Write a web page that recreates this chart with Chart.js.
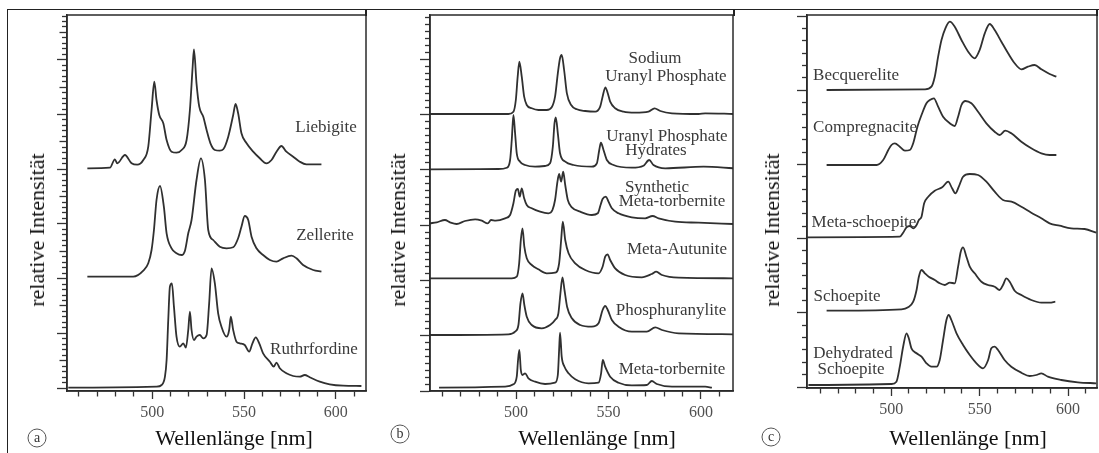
<!DOCTYPE html>
<html><head><meta charset="utf-8">
<script src="https://cdn.jsdelivr.net/npm/chart.js@4.4.0/dist/chart.umd.min.js"></script>
<style>
html,body{margin:0;padding:0;background:#fff;}
body{width:1099px;height:453px;position:relative;overflow:hidden;font-family:"Liberation Serif","Times New Roman",serif;}
canvas{position:absolute;top:0;}
.lbl{position:absolute;transform:translate(-50%,-50%);white-space:nowrap;font-size:17px;color:#3a3a3a;line-height:1;}
.ytitle{position:absolute;transform:translate(-50%,-50%) rotate(-90deg);white-space:nowrap;font-size:22px;color:#111;line-height:1;}
.xtitle{position:absolute;transform:translate(-50%,-50%);white-space:nowrap;font-size:22px;color:#111;line-height:1;}
.circ{position:absolute;transform:translate(-50%,-50%);width:17px;height:17px;border:1.3px solid #555;border-radius:50%;font-size:14px;line-height:16px;text-align:center;color:#333;}
.ln{position:absolute;background:#222;}
</style></head>
<body>
<canvas id="ca" width="370" height="453" style="left:0px"></canvas>
<canvas id="cb" width="365" height="453" style="left:370px"></canvas>
<canvas id="cc" width="364" height="453" style="left:735px"></canvas>
<div class="ln" style="left:7px;top:9px;width:1px;height:444px"></div>
<div class="ln" style="left:7px;top:9px;width:1092px;height:1px"></div>
<div class="ln" style="left:365px;top:9px;width:1.5px;height:7px"></div>
<div class="ln" style="left:733px;top:9px;width:1.5px;height:7px"></div>
<div class="ln" style="left:1096px;top:9px;width:1.5px;height:7px"></div>
<div id="overlay"></div>
<script>
// ---------------- DATA ----------------
const yAxisTitle = 'relative Intensität';
const xAxisTitle = 'Wellenlänge [nm]';
const panelLetters = ['a', 'b', 'c'];
const xTickValues = [460, 470, 480, 490, 500, 510, 520, 530, 540, 550, 560, 570, 580, 590, 600, 610];
const xTickLabels = ['500', '550', '600'];

// panel (a)  [wavelength nm, relative intensity]
const liebigite = [[464.6,222.7],[476.9,223.3],[479.6,231.7],[480.9,227.7],[485.1,236],[488.7,227.7],[491.8,226.3],[495.1,231],[497.8,244.3],[499.6,281],[501.1,309.3],[502.3,291],[503.8,276],[506.0,267.7],[507.8,251],[510.5,239.3],[513.2,238.3],[516.0,241],[518.7,251],[520.5,281],[522.0,324.3],[522.7,341.7],[524.1,307.7],[525.6,284.3],[527.8,274.3],[529.6,261],[531.7,247.7],[534.1,241],[536.8,240.3],[538.7,241.7],[541.4,254.3],[544.1,276],[545.4,287],[546.8,277.7],[548.6,257.7],[551.4,247.7],[555.0,239.3],[558.6,232.7],[562.2,227.7],[565.0,231],[567.7,239.3],[570.4,245],[573.1,239.3],[576.8,234.3],[580.4,229.3],[584.0,226.7],[592.2,226.7]];
const zellerite = [[464.6,114.3],[489.6,114.3],[495.1,120.3],[497.8,127.7],[499.6,141],[500.9,161],[502.3,191],[504.2,205],[506.3,184.3],[507.8,157.7],[510.5,142.7],[513.2,137.7],[516.0,136],[517.8,140.3],[519.6,157.7],[521.4,171],[524.1,211],[526.5,232.7],[528.7,211],[530.5,161],[533.2,151],[536.8,144.3],[540.5,142.7],[544.1,143.7],[546.8,152.7],[548.6,164.3],[550.4,175],[552.3,171],[554.1,154.3],[556.8,142.7],[560.4,136],[564.1,131],[567.7,129.3],[571.3,132.7],[575.9,135.3],[578.6,132.7],[582.2,126],[587.7,121],[592.2,119.3]];
const ruthrfordine = [[454.2,3.3],[502.3,4.3],[505.1,6],[506.9,14.3],[507.8,31],[508.7,71],[509.6,104.3],[510.7,107.7],[511.8,84.3],[513.2,54.3],[515.0,44.3],[516.9,47.7],[518.3,43.3],[519.6,61],[520.5,79.3],[521.4,61],[522.7,51],[524.1,54.3],[525.9,56],[527.8,52.7],[529.6,56],[531.0,87.7],[532.3,122.7],[534.1,107.7],[535.9,77.7],[537.7,64.3],[540.5,54.3],[541.9,61],[542.8,74.3],[544.1,61],[545.9,49.3],[547.7,47.7],[550.4,46],[552.8,39.3],[554.6,47.7],[556.4,53.7],[558.3,47.7],[560.4,37.7],[564.1,29.3],[566.2,24.3],[567.7,28.3],[569.5,22.7],[573.1,17.7],[576.8,15],[580.4,14.3],[583.1,16],[585.8,13.7],[591.3,9.3],[596.7,6.7],[604.0,5.3],[614.0,5]];

// panel (b)
const sodiumUranylPhosphate = [[453.5,277],[495.9,277],[498.6,279.3],[499.9,291],[500.9,314.3],[501.8,329.3],[503.1,314.3],[504.4,294.3],[505.8,286],[508.5,282.7],[512.1,281],[516.6,281],[519.3,283.7],[521.1,294.3],[522.6,317.7],[523.8,332.7],[524.7,336],[526.0,321],[527.5,297.7],[529.8,286],[532.9,281.7],[537.4,280],[542.8,279.3],[545.5,284.3],[546.8,294.3],[548.3,303.7],[549.6,297.7],[550.9,289.3],[553.6,282.7],[558.1,279.3],[564.4,278.3],[571.6,279.3],[574.9,282.7],[578.0,280],[584.3,277.7],[598.7,277],[602.3,277.7],[617.6,277]];
const uranylPhosphateHydrates = [[453.5,221.7],[490.5,222],[495.0,223.3],[496.8,231],[497.7,251],[498.6,276],[499.5,257.7],[500.4,237.7],[502.2,229.3],[504.9,226],[510.3,224.3],[515.7,225],[518.4,227.7],[519.9,244.3],[520.8,267.7],[521.5,273.7],[522.6,257.7],[523.8,237.7],[526.6,229.3],[531.1,226],[541.0,224.3],[543.7,227.7],[545.0,241],[545.9,248.3],[547.3,241],[549.1,231],[552.7,226],[562.6,223.3],[568.9,225.3],[572.0,231],[574.3,226],[580.7,222.7],[601.4,224.3],[617.6,222.7]];
const syntheticMetaTorbernite = [[453.5,167.7],[457.1,168.7],[461.6,171],[464.3,168.7],[467.9,167],[472.4,170],[477.9,171.7],[481.5,170.3],[484.7,167.7],[486.5,171],[489.0,170.3],[494.1,172.7],[496.8,176],[498.6,187.7],[499.9,200.3],[501.0,202],[502.0,194.3],[503.1,202.7],[504.4,192.7],[505.8,186],[508.5,182.7],[513.0,179.3],[517.5,177.7],[519.7,181],[521.1,191],[522.4,209.3],[523.3,217],[524.4,209.3],[525.5,219.3],[526.6,206],[528.0,191],[530.2,183.7],[534.7,179.3],[541.0,176],[544.2,177.7],[545.7,186],[546.8,192],[548.6,194.3],[550.0,189.3],[551.8,182.7],[555.4,177.7],[562.6,173.7],[569.8,172.7],[573.8,175],[577.1,172.7],[586.1,169.3],[598.7,168.3],[617.6,167]];
const metaAutunite = [[453.5,112.7],[497.7,112.7],[500.4,114.3],[501.7,127.7],[502.6,151],[503.5,162.7],[504.5,144.3],[505.8,132.7],[508.5,126],[512.1,121.7],[516.6,117.7],[521.1,118.3],[523.3,127.7],[524.4,151],[525.3,169.3],[526.6,151],[528.4,137.7],[532.0,127.7],[537.4,121],[544.6,117.7],[546.8,124.3],[548.2,134.3],[549.5,136.7],[550.9,131],[553.6,122.7],[559.0,116],[568.0,113.7],[573.4,117],[575.8,119.3],[578.9,116],[587.9,113.3],[617.6,112.7]];
const phosphuranylite = [[453.5,56],[495.9,56.7],[499.5,59.3],[501.3,66],[502.4,87.7],[503.5,97.7],[504.5,86],[505.8,74.3],[508.5,66],[513.9,62.7],[518.4,66],[521.1,71],[522.9,77.7],[524.0,97.7],[525.1,113.7],[526.2,101],[527.6,84.3],[530.2,72.7],[534.7,66],[541.0,64.3],[544.6,67.7],[546.8,81],[548.2,85],[549.6,81],[551.8,71],[555.4,64.3],[562.6,59.3],[570.7,59.3],[575.3,63.7],[578.9,61],[587.9,57.7],[617.6,56.7]];
const metaTorbernite = [[458.4,3.3],[494.1,4.3],[498.6,6.7],[500.4,14.3],[501.1,31],[501.8,41],[502.6,21],[503.5,16],[504.9,17.7],[506.7,12.7],[510.3,9.3],[515.7,7],[521.1,8.3],[522.6,16],[523.3,41],[523.8,58.3],[524.7,34.3],[526.2,24.3],[528.4,17.7],[532.0,11.7],[539.2,7.7],[544.6,8.3],[546.0,17.7],[546.9,31],[548.2,24.3],[550.9,14.3],[555.4,8.3],[562.6,5.7],[570.7,6],[573.4,10],[576.1,7],[584.3,4.3],[602.3,4.3],[605.9,3.3]];

// panel (c)
const becquerelite = [[463.4,298],[519.0,298.7],[522.7,301.3],[524.6,311.3],[526.5,331.3],[528.4,348],[530.6,359.7],[533.1,366.3],[535.9,361.3],[539.7,348],[543.5,336.3],[547.2,329.7],[550.0,338],[552.9,354.7],[555.7,364],[558.5,358],[562.3,346.3],[566.1,334.7],[569.8,324.7],[573.6,318.7],[577.3,321.3],[581.1,323],[584.9,318.7],[589.6,314],[593.4,311.3]];
const compregnacite = [[463.4,223],[491.7,223],[495.4,228],[498.3,238],[500.1,243],[502.0,244.7],[504.8,241.3],[507.7,237.3],[510.5,238],[512.4,244.7],[514.8,261.3],[517.1,273],[519.9,284.7],[521.8,288],[524.1,289.7],[526.5,281.3],[529.3,271.3],[533.1,264.7],[535.9,262],[537.8,271.3],[539.7,283],[541.9,287],[545.3,284.7],[549.1,276.3],[553.8,264.7],[558.5,256.3],[561.3,253],[564.5,257.3],[567.9,254.7],[573.6,246.3],[579.2,239.7],[584.9,234.7],[589.6,233],[593.4,233]];
const metaSchoepite = [[452.3,150.7],[504.8,151.3],[506.7,155.3],[508.6,160.7],[510.5,162],[512.4,159.7],[514.3,163],[515.6,168],[517.1,171.3],[518.6,184.7],[520.9,191.3],[524.6,197.3],[528.8,200.7],[532.2,206.3],[534.4,199.7],[536.3,194.7],[538.2,201.3],[540.6,211.3],[544.4,214],[549.1,213],[553.8,206.3],[558.5,196.3],[563.2,188],[568.0,186.3],[573.6,181.3],[579.2,175.3],[584.9,169.7],[589.6,164.7],[595.2,162.3],[601.8,159.7],[609.4,159],[616.0,155.3]];
const schoepite = [[463.4,77.3],[505.8,78.7],[509.5,80.7],[512.4,86.3],[514.3,98],[515.6,111.3],[517.1,118],[519.0,114.7],[521.2,111.3],[524.6,108],[527.4,104.7],[530.3,103],[533.1,105.3],[535.9,104.7],[537.8,121.3],[539.3,136.3],[540.6,140.7],[542.5,131.3],[544.4,121.3],[547.2,114.7],[551.0,106.3],[554.7,103],[558.5,101.3],[561.3,98],[563.2,103],[565.1,109.7],[567.0,106.3],[569.8,97.3],[573.6,93],[579.2,88],[584.9,85.3],[589.6,85.3],[592.8,86.3]];
const dehydratedSchoepite = [[453.1,3],[500.1,4],[502.9,6.3],[504.8,21.3],[506.7,41.3],[508.6,54.7],[509.9,49.7],[511.4,39.7],[514.3,34.7],[517.1,31.3],[519.9,24.7],[522.7,21.3],[525.6,21.3],[527.4,28],[529.3,48],[531.2,68],[532.5,73],[534.0,68],[536.9,54.7],[540.6,43],[544.4,33],[548.2,24.7],[551.9,19.7],[554.8,28],[556.6,39.7],[558.5,41.3],[560.4,38],[564.1,28],[567.9,21.3],[573.6,15.3],[578.3,12],[582.1,13],[584.9,14.7],[588.6,11.3],[596.2,8],[605.6,5.7],[616.0,4.7]];

const namesA = ['Liebigite', 'Zellerite', 'Ruthrfordine'];
const namesB = [['Sodium', 'Uranyl Phosphate'], ['Uranyl Phosphate', 'Hydrates'], ['Synthetic', 'Meta-torbernite'], ['Meta-Autunite'], ['Phosphuranylite'], ['Meta-torbernite']];
const namesC = ['Becquerelite', 'Compregnacite', 'Meta-schoepite', 'Schoepite', ['Dehydrated', 'Schoepite']];

// ---------------- RENDERING ----------------
const FONT = '"Liberation Serif","Times New Roman",serif';
const INK = '#2a2a2a';

const framePlugin = {
  id: 'frame',
  afterDraw(chart) {
    const {ctx, chartArea: a} = chart;
    ctx.save();
    ctx.strokeStyle = '#2a2a2a';
    ctx.lineWidth = 1.5;
    ctx.strokeRect(a.left, a.top, a.right - a.left, a.bottom - a.top);
    ctx.restore();
  }
};

function makePanel(id, series, p) {
  const yTicks = [];
  for (let i = 0; ; i++) {
    const v = p.yOffset + i * p.yMajor / p.yMinorPerMajor;
    if (v > p.yMax + 0.01) break;
    yTicks.push(v);
  }
  new Chart(document.getElementById(id), {
    type: 'line',
    data: {
      datasets: series.map(s => ({
        data: s, borderColor: '#303030', borderWidth: 1.8,
        pointRadius: 0, cubicInterpolationMode: 'monotone', fill: false
      }))
    },
    options: {
      responsive: false, animation: false, events: [],
      layout: {padding: {top: p.top, right: p.right, left: 0, bottom: 0}},
      plugins: {legend: {display: false}, tooltip: {enabled: false}},
      scales: {
        x: {
          type: 'linear', min: p.xMin, max: p.xMax, bounds: 'data',
          afterBuildTicks: s => { s.ticks = xTickValues.map(v => ({value: v})); },
          afterFit: s => { s.height = p.xAxisH; },
          border: {display: true, color: INK, width: 1.5},
          grid: {
            display: true, drawOnChartArea: false, drawTicks: true, tickLength: 8,
            tickColor: '#333', tickWidth: 1.3,
            tickBorderDash: c => (c.tick && xTickLabels.includes(String(c.tick.value))) ? [] : [5, 50],
            tickBorderDashOffset: 0
          },
          ticks: {
            autoSkip: false, maxRotation: 0, padding: 4, color: '#505050',
            font: {family: FONT, size: 16},
            callback: v => xTickLabels.includes(String(v)) ? String(v) : ''
          }
        },
        y: {
          type: 'linear', min: 0, max: p.yMax, bounds: 'data',
          afterBuildTicks: s => { s.ticks = yTicks.map(v => ({value: v})); },
          afterFit: s => { s.width = p.yAxisW; },
          border: {display: true, color: INK, width: 1.5},
          grid: {
            display: true, drawOnChartArea: false, drawTicks: true, tickLength: 10,
            tickColor: '#333', tickWidth: 1.3,
            tickBorderDash: c => {
              const i = c.index;
              if (i % p.yMinorPerMajor === 0) return [];
              if (p.semi && i % (p.yMinorPerMajor / 2) === 0) return [7.5, 50];
              return [5, 50];
            },
            tickBorderDashOffset: c => {
              const i = c.index;
              if (i % p.yMinorPerMajor === 0) return 0;
              if (p.semi && i % (p.yMinorPerMajor / 2) === 0) return 55;
              return 50;
            }
          },
          ticks: {display: false, autoSkip: false}
        }
      }
    },
    plugins: [framePlugin]
  });
}

makePanel('ca', [liebigite, zellerite, ruthrfordine],
  {xMin: 453.5, xMax: 616.5, yMax: 376, yOffset: 3, yMajor: 54.7, yMinorPerMajor: 10, semi: true,
   top: 15, right: 4, yAxisW: 67, xAxisH: 62});
makePanel('cb', [sodiumUranylPhosphate, uranylPhosphateHydrates, syntheticMetaTorbernite, metaAutunite, phosphuranylite, metaTorbernite],
  {xMin: 453.5, xMax: 617.3, yMax: 376, yOffset: 0, yMajor: 55.3, yMinorPerMajor: 8, semi: false,
   top: 15, right: 2, yAxisW: 60, xAxisH: 62});
makePanel('cc', [becquerelite, compregnacite, metaSchoepite, schoepite, dehydratedSchoepite],
  {xMin: 452.3, xMax: 616.4, yMax: 373, yOffset: 1, yMajor: 74.2, yMinorPerMajor: 6, semi: false,
   top: 15, right: 2, yAxisW: 72, xAxisH: 65});

// ---------------- TEXT ----------------
const ov = document.getElementById('overlay');
function put(cls, text, x, y) {
  const d = document.createElement('div');
  d.className = cls; d.textContent = text;
  d.style.left = x + 'px'; d.style.top = y + 'px';
  ov.appendChild(d);
}
[37, 398, 772].forEach(x => put('ytitle', yAxisTitle, x, 230));
[234, 597, 968].forEach(x => put('xtitle', xAxisTitle, x, 438));
[[37, 438], [400, 434], [771, 437]].forEach((pt, i) => put('circ', panelLetters[i], pt[0], pt[1]));

const posA = [[[326, 126]], [[325, 234]], [[314, 348]]];
const posB = [[[655, 57], [666, 75]], [[667, 135], [656, 149]], [[657, 186], [672, 200]], [[677, 248]], [[671, 309]], [[672, 368]]];
const posC = [[[856, 74]], [[865, 126]], [[864, 221]], [[847, 295]], [[853, 352], [851, 368]]];
function placeNames(names, pos) {
  names.forEach((n, i) => {
    const lines = Array.isArray(n) ? n : [n];
    lines.forEach((t, j) => put('lbl', t, pos[i][j][0], pos[i][j][1]));
  });
}
placeNames(namesA, posA);
placeNames(namesB, posB);
placeNames(namesC, posC);
</script>
</body></html>
